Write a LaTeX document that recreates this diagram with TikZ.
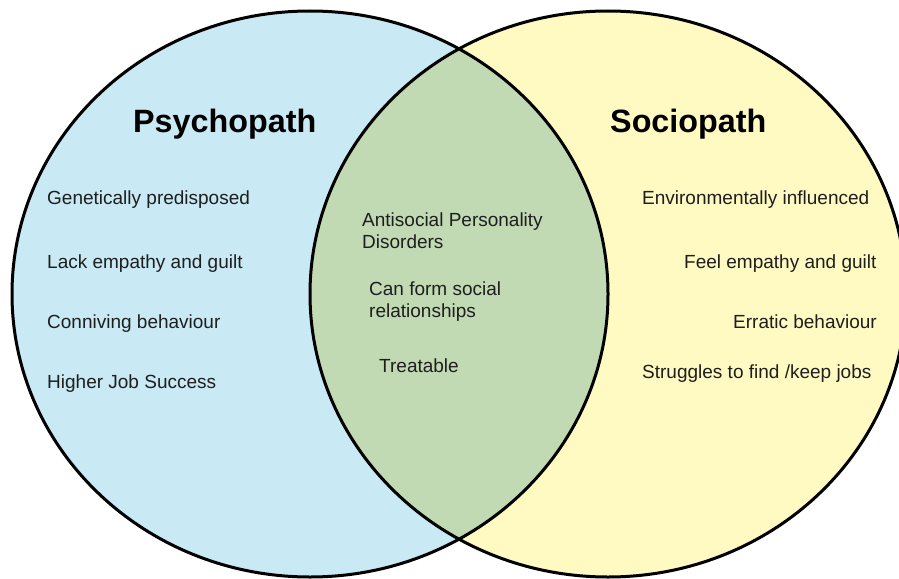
\documentclass[tikz,border=0pt]{standalone}
\usepackage{fontspec}
\setmainfont{Liberation Sans}
\begin{document}
\begin{tikzpicture}[x=1pt,y=-1pt,
  ringline/.style={draw=black,line width=3pt},
  heading/.style={anchor=base west,inner sep=0pt,font=\fontsize{32.3}{38}\selectfont\bfseries,text=black},
  item/.style={anchor=base west,inner sep=0pt,font=\fontsize{19}{21.7}\selectfont,text=txtgray,align=left}]
\definecolor{psyblue}{HTML}{C9E9F4}
\definecolor{socyellow}{HTML}{FFF9C2}
\definecolor{bothgreen}{HTML}{C1DAB4}
\definecolor{txtgray}{HTML}{1E1E1E}
\useasboundingbox (0,0) rectangle (899,578);
\clip (0,0) rectangle (899,578);
% the two sets
\fill[psyblue] (310,294) ellipse [x radius=298pt, y radius=283pt];
\fill[socyellow] (608,294) ellipse [x radius=298pt, y radius=283pt];
\begin{scope}
  \clip (310,294) ellipse [x radius=298pt, y radius=283pt];
  \fill[bothgreen] (608,294) ellipse [x radius=298pt, y radius=283pt];
\end{scope}
\draw[ringline] (310,294) ellipse [x radius=298pt, y radius=283pt];
\draw[ringline] (608,294) ellipse [x radius=298pt, y radius=283pt];
% headings
\node[heading] (psy) at (133,132) {Psychopath};
\node[heading] (soc) at (610,132) {Sociopath};
% psychopath traits
\node[item] (p1) at (47,204) {Genetically predisposed};
\node[item] (p2) at (47,268) {Lack empathy and guilt};
\node[item] (p3) at (47,328) {Conniving behaviour};
\node[item] (p4) at (47,388) {Higher Job Success};
% shared traits (base sits on the last line)
\node[item] (b1) at (362,248) {Antisocial Personality\\Disorders};
\node[item] (b2) at (369,317) {Can form social\\relationships};
\node[item] (b3) at (379,372) {Treatable};
% sociopath traits
\node[item] (s1) at (642,204) {Environmentally influenced};
\node[item] (s2) at (684,268) {Feel empathy and guilt};
\node[item] (s3) at (733,328) {Erratic behaviour};
\node[item] (s4) at (642,378) {Struggles to find /keep jobs};
\end{tikzpicture}
\end{document}
